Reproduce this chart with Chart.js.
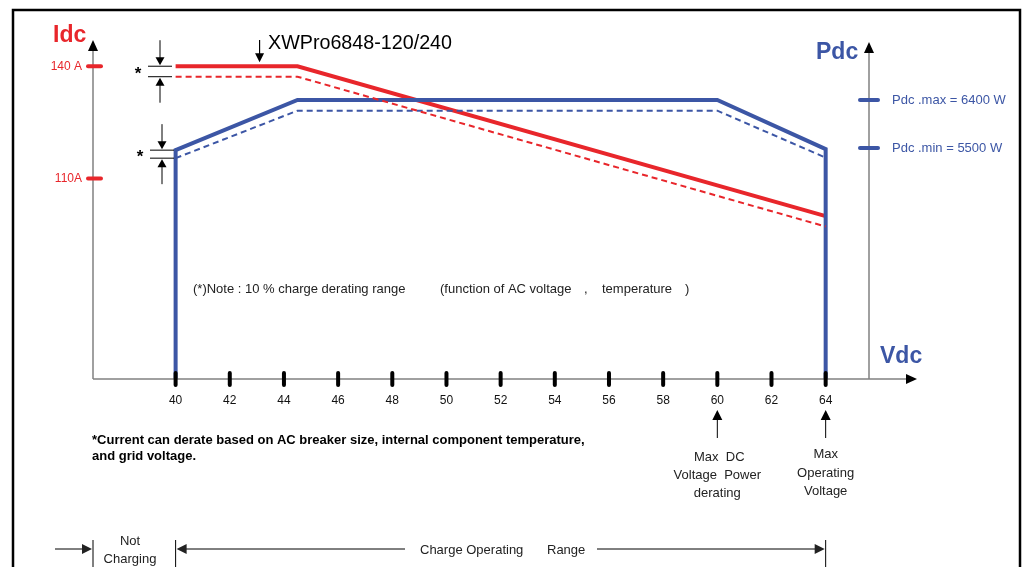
<!DOCTYPE html>
<html>
<head>
<meta charset="utf-8">
<script src="https://cdn.jsdelivr.net/npm/chart.js@4/dist/chart.umd.min.js"></script>
<style>
  html, body { margin: 0; padding: 0; background: #fff; }
  #wrap { width: 1028px; height: 567px; }
</style>
</head>
<body>
<div id="wrap"><canvas id="chart" width="1028" height="567"></canvas></div>
<script>
// === Data ===
const VOLTS_RED = [40, 44.5, 64];
const IDC_SOLID = [140, 140, 100];
const IDC_DASHED = [137.2, 137.2, 97.2];

const VOLTS_BLUE = [40, 40, 44.5, 60, 64, 64];
const PDC_SOLID = [1170, 5460, 6400, 6400, 5480, 1170];
const VOLTS_BLUE_DASH = [40, 44.5, 60, 64];
const PDC_DASHED = [5310, 6200, 6200, 5320];

const X_TICKS = [40, 42, 44, 46, 48, 50, 52, 54, 56, 58, 60, 62, 64];
const IDC_TICKS = [140, 110];
const IDC_LABELS = ['140 A', '110A'];
const PDC_TICKS = [6400, 5500];
const PDC_LABELS = ['Pdc .max = 6400 W', 'Pdc .min = 5500 W'];

// === Style ===
const RED = '#e8262b';
const BLUE = '#3c56a5';
const GREY = '#808080';
const FONT = '"Liberation Sans", Arial, sans-serif';

const pts = (xs, ys) => xs.map((x, i) => ({ x, y: ys[i] }));

// === Helpers ===
function arrow(ctx, x1, y1, x2, y2, len = 9, w = 4.5) {
  const a = Math.atan2(y2 - y1, x2 - x1);
  ctx.beginPath();
  ctx.moveTo(x1, y1);
  ctx.lineTo(x2 - Math.cos(a) * len * 0.6, y2 - Math.sin(a) * len * 0.6);
  ctx.stroke();
  ctx.beginPath();
  ctx.moveTo(x2, y2);
  ctx.lineTo(x2 - Math.cos(a) * len - Math.sin(a) * w, y2 - Math.sin(a) * len + Math.cos(a) * w);
  ctx.lineTo(x2 - Math.cos(a) * len + Math.sin(a) * w, y2 - Math.sin(a) * len - Math.cos(a) * w);
  ctx.closePath();
  ctx.fill();
}

function line(ctx, x1, y1, x2, y2) {
  ctx.beginPath();
  ctx.moveTo(x1, y1);
  ctx.lineTo(x2, y2);
  ctx.stroke();
}

function text(ctx, s, x, y, font, color, align = 'left', maxW) {
  ctx.font = font;
  ctx.fillStyle = color;
  ctx.textAlign = align;
  ctx.textBaseline = 'middle';
  if (maxW) ctx.fillText(s, x, y, maxW); else ctx.fillText(s, x, y);
}

// === Decorations (axes, arrows, notes) ===
const decor = {
  id: 'decor',
  beforeDraw(chart) {
    const ctx = chart.ctx;
    ctx.save();
    ctx.strokeStyle = '#000';
    ctx.lineWidth = 2.5;
    ctx.strokeRect(13, 10, 1007, 600);
    ctx.restore();
  },
  afterDraw(chart) {
    const ctx = chart.ctx;
    const xs = chart.scales.x, ys = chart.scales.y, ps = chart.scales.y1;
    const area = chart.chartArea;
    const base = area.bottom;
    ctx.save();
    ctx.lineCap = 'butt';

    // axis lines with arrow heads
    ctx.strokeStyle = GREY; ctx.fillStyle = '#000'; ctx.lineWidth = 1.5;
    arrow(ctx, area.left, base, area.left, area.top, 11, 5);
    arrow(ctx, area.right, base, area.right, area.top + 2, 11, 5);
    arrow(ctx, area.left, base, 917, base, 11, 5);

    // x tick marks
    ctx.strokeStyle = '#000'; ctx.lineWidth = 4; ctx.lineCap = 'round';
    X_TICKS.forEach(v => { const px = xs.getPixelForValue(v); line(ctx, px, base - 6, px, base + 6); });

    // Idc / Pdc tick marks
    ctx.strokeStyle = RED;
    IDC_TICKS.forEach(v => { const py = ys.getPixelForValue(v); line(ctx, area.left - 5, py, area.left + 8, py); });
    ctx.strokeStyle = BLUE;
    PDC_TICKS.forEach(v => { const py = ps.getPixelForValue(v); line(ctx, area.right - 9, py, area.right + 9, py); });
    ctx.lineCap = 'butt';

    // axis titles
    text(ctx, 'Idc', 53, 36, 'bold 23px ' + FONT, RED);
    text(ctx, 'Pdc', 816, 53, 'bold 23px ' + FONT, BLUE);
    text(ctx, 'Vdc', 880, 357, 'bold 23px ' + FONT, BLUE);

    // model annotation
    ctx.strokeStyle = '#000'; ctx.fillStyle = '#000'; ctx.lineWidth = 1.2;
    const mx = xs.getPixelForValue(43.1);
    arrow(ctx, mx, 40, mx, ys.getPixelForValue(IDC_SOLID[0]) - 4, 9, 4.5);
    text(ctx, 'XWPro6848-120/240', 268, 43, '20px ' + FONT, '#000', 'left', 184);

    // derating markers (*)
    const mark = (x, yTop, yBot) => {
      ctx.strokeStyle = '#000'; ctx.fillStyle = '#000'; ctx.lineWidth = 1;
      line(ctx, x - 12, yTop, x + 12, yTop);
      line(ctx, x - 12, yBot, x + 12, yBot);
      arrow(ctx, x, yTop - 26, x, yTop - 1, 8, 4.5);
      arrow(ctx, x, yBot + 26, x, yBot + 1, 8, 4.5);
      text(ctx, '*', x - 22, (yTop + yBot) / 2 + 3, 'bold 17px ' + FONT, '#000', 'center');
    };
    mark(160, ys.getPixelForValue(IDC_SOLID[0]), ys.getPixelForValue(IDC_DASHED[0]));
    mark(162, ps.getPixelForValue(PDC_SOLID[1]), ps.getPixelForValue(PDC_DASHED[0]));

    // note
    const nf = '13px ' + FONT, nc = '#222';
    text(ctx, '(*)Note : 10 % charge derating range', 193, 289, nf, nc, 'left', 225);
    text(ctx, '(function of AC voltage', 440, 289, nf, nc);
    text(ctx, ',', 584, 289, nf, nc);
    text(ctx, 'temperature', 602, 289, nf, nc);
    text(ctx, ')', 685, 289, nf, nc);

    // footnote
    const ff = 'bold 13px ' + FONT;
    text(ctx, '*Current can derate based on AC breaker size, internal component temperature,', 92, 440, ff, '#000', 'left', 496);
    text(ctx, 'and grid voltage.', 92, 456, ff, '#000');

    // 60 / 64 callouts
    ctx.strokeStyle = '#000'; ctx.fillStyle = '#000'; ctx.lineWidth = 1;
    const x60 = xs.getPixelForValue(60), x64 = xs.getPixelForValue(64);
    arrow(ctx, x60, 438, x60, 410, 10, 5);
    arrow(ctx, x64, 438, x64, 410, 10, 5);
    const cf = '13px ' + FONT, cc = '#222';
    text(ctx, 'Max  DC', x60 + 2, 457, cf, cc, 'center');
    text(ctx, 'Voltage  Power', x60, 475, cf, cc, 'center');
    text(ctx, 'derating', x60, 493, cf, cc, 'center');
    text(ctx, 'Max', x64, 454, cf, cc, 'center');
    text(ctx, 'Operating', x64, 473, cf, cc, 'center');
    text(ctx, 'Voltage', x64, 491, cf, cc, 'center');

    // operating range row
    const x40 = xs.getPixelForValue(40);
    const ry = 549;
    line(ctx, area.left, 540, area.left, 570);
    line(ctx, x40, 540, x40, 570);
    line(ctx, x64, 540, x64, 570);
    arrow(ctx, 55, ry, area.left - 1, ry, 10, 5);
    arrow(ctx, 405, ry, x40 + 1, ry, 10, 5);
    arrow(ctx, 597, ry, x64 - 1, ry, 10, 5);
    text(ctx, 'Not', 130, 541, cf, cc, 'center');
    text(ctx, 'Charging', 130, 559, cf, cc, 'center');
    text(ctx, 'Charge Operating', 420, 550, cf, cc);
    text(ctx, 'Range', 547, 550, cf, cc);

    ctx.restore();
  }
};

// === Chart ===
new Chart(document.getElementById('chart'), {
  type: 'line',
  data: {
    datasets: [
      { data: pts(VOLTS_RED, IDC_DASHED), yAxisID: 'y', borderColor: RED, borderWidth: 2, borderDash: [6, 4] },
      { data: pts(VOLTS_BLUE_DASH, PDC_DASHED), yAxisID: 'y1', borderColor: BLUE, borderWidth: 2, borderDash: [6, 4] },
      { data: pts(VOLTS_BLUE, PDC_SOLID), yAxisID: 'y1', borderColor: BLUE, borderWidth: 4 },
      { data: pts(VOLTS_RED, IDC_SOLID), yAxisID: 'y', borderColor: RED, borderWidth: 4 }
    ]
  },
  options: {
    responsive: false,
    animation: false,
    events: [],
    layout: { padding: { top: 40, left: 0, right: 0, bottom: 0 } },
    elements: { point: { radius: 0 }, line: { tension: 0, borderJoinStyle: 'miter', fill: false } },
    plugins: { legend: { display: false }, tooltip: { enabled: false } },
    scales: {
      x: {
        type: 'linear', min: 36.95, max: 65.6,
        afterBuildTicks: s => { s.ticks = X_TICKS.map(v => ({ value: v })); },
        afterFit: s => { s.height = 188; },
        grid: { display: false, drawTicks: false },
        border: { display: false },
        ticks: { padding: 14, color: '#111', font: { family: FONT, size: 12 }, maxRotation: 0, autoSkip: false }
      },
      y: {
        type: 'linear', position: 'left', min: 56.5, max: 147,
        afterBuildTicks: s => { s.ticks = IDC_TICKS.map(v => ({ value: v })); },
        afterFit: s => { s.width = 93; },
        grid: { display: false, drawTicks: false },
        border: { display: false },
        ticks: { padding: 11, color: RED, font: { family: FONT, size: 12 }, callback: (v) => IDC_LABELS[IDC_TICKS.indexOf(v)] }
      },
      y1: {
        type: 'linear', position: 'right', min: 1170, max: 7525,
        afterBuildTicks: s => { s.ticks = PDC_TICKS.map(v => ({ value: v })); },
        afterFit: s => { s.width = 159; },
        grid: { display: false, drawTicks: false },
        border: { display: false },
        ticks: { padding: 23, color: BLUE, font: { family: FONT, size: 13 }, callback: (v) => PDC_LABELS[PDC_TICKS.indexOf(v)] }
      }
    }
  },
  plugins: [decor]
});
</script>
</body>
</html>
